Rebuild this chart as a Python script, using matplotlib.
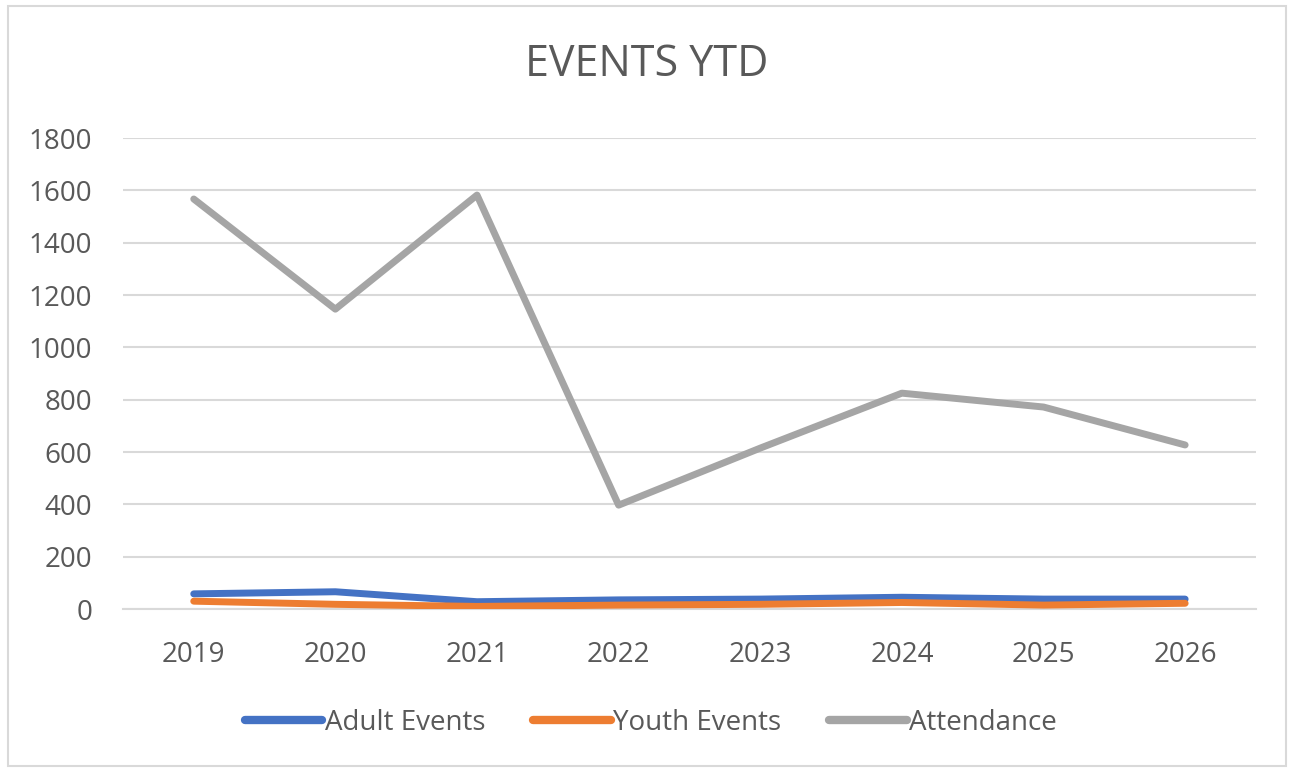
import matplotlib
matplotlib.use('Agg')
import matplotlib.pyplot as plt
from matplotlib.patches import Rectangle

# ── data ─────────────────────────────────────────────────────────────────────
years = ['2019', '2020', '2021', '2022', '2023', '2024', '2025', '2026']
adult_events = [58, 66, 28, 35, 38, 45, 38, 38]
youth_events = [30, 18, 10, 15, 18, 25, 15, 22]
attendance = [1567, 1146, 1582, 397, 615, 825, 772, 627]

# ── style ────────────────────────────────────────────────────────────────────
BLUE = '#4472C4'
ORANGE = '#ED7D31'
GRAY = '#A5A5A5'
GRID = '#D9D9D9'
TXT = '#595959'

plt.rcParams['font.family'] = ['Open Sans', 'DejaVu Sans']

fig = plt.figure(figsize=(12.94, 7.72), dpi=100)
fig.patch.set_facecolor('white')
ax = fig.add_axes([0.095, 0.2111, 0.8756, 0.6101])

x = range(len(years))
lw = 5
ax.plot(x, adult_events, color=BLUE, lw=lw, solid_capstyle='round', label='Adult Events', zorder=3)
ax.plot(x, youth_events, color=ORANGE, lw=lw, solid_capstyle='round', label='Youth Events', zorder=4)
ax.plot(x, attendance, color=GRAY, lw=lw, solid_capstyle='round', label='Attendance', zorder=3)

ax.set_xlim(-0.5, len(years) - 0.5)
ax.set_ylim(0, 1800)
ax.set_yticks(range(0, 1801, 200))
ax.set_xticks(list(x))
ax.set_xticklabels(years)
ax.grid(axis='y', color=GRID, lw=1.5)
ax.set_axisbelow(True)
for s in ['top', 'right', 'left']:
    ax.spines[s].set_visible(False)
ax.spines['bottom'].set_color(GRID)
ax.spines['bottom'].set_linewidth(1.5)
ax.tick_params(length=0, labelsize=20, colors=TXT)
ax.tick_params(axis='y', pad=22)
ax.tick_params(axis='x', pad=23)

fig.text(0.5, 0.916, 'EVENTS YTD', ha='center', va='center', fontsize=31, color=TXT)

leg = fig.legend(loc='center', bbox_to_anchor=(0.503, 0.064), ncol=3, frameon=False,
                 fontsize=20, handlelength=2.8, handletextpad=0.1, columnspacing=1.7)
for t in leg.get_texts():
    t.set_color(TXT)
for h in leg.get_lines():
    h.set_linewidth(6)

fig.add_artist(Rectangle((0.006, 0.008), 0.988, 0.984, transform=fig.transFigure,
                         fill=False, ec='#D9D9D9', lw=1.5))

fig.savefig('out.png', dpi=100)
